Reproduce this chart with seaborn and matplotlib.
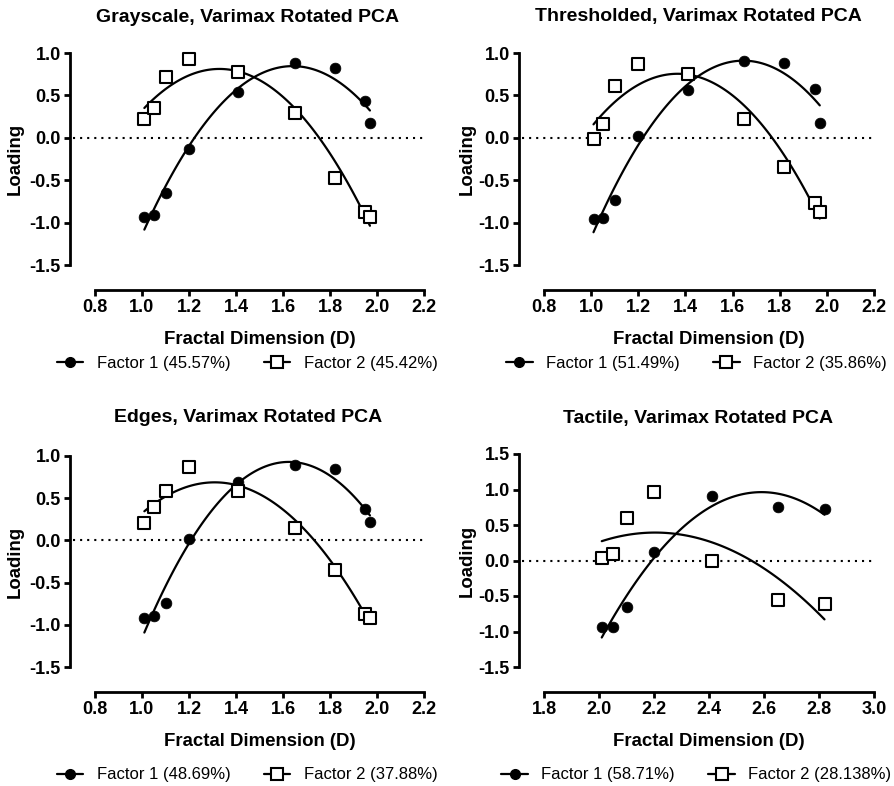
import numpy as np
import pandas as pd
import matplotlib
matplotlib.use("Agg")
import matplotlib.pyplot as plt
from matplotlib.lines import Line2D
import seaborn as sns

sns.set_theme(style="white")
plt.rcParams['font.family'] = ['Liberation Sans', 'DejaVu Sans']
plt.rcParams['text.color'] = 'black'
plt.rcParams['axes.labelcolor'] = 'black'
plt.rcParams['xtick.color'] = 'black'
plt.rcParams['ytick.color'] = 'black'

# ---- data ----
titles = ["Grayscale, Varimax Rotated PCA", "Thresholded, Varimax Rotated PCA",
          "Edges, Varimax Rotated PCA", "Tactile, Varimax Rotated PCA"]

x_gray = [1.01, 1.05, 1.10, 1.20, 1.41, 1.65, 1.82, 1.95, 1.97]
f1_gray = [-0.93, -0.91, -0.65, -0.13, 0.54, 0.88, 0.82, 0.43, 0.18]
f2_gray = [0.22, 0.35, 0.72, 0.93, 0.78, 0.29, -0.47, -0.87, -0.93]

x_thr = [1.01, 1.05, 1.10, 1.20, 1.41, 1.65, 1.82, 1.95, 1.97]
f1_thr = [-0.96, -0.95, -0.73, 0.02, 0.56, 0.90, 0.88, 0.58, 0.18]
f2_thr = [-0.02, 0.16, 0.61, 0.87, 0.75, 0.22, -0.34, -0.77, -0.87]

x_edge = [1.01, 1.05, 1.10, 1.20, 1.41, 1.65, 1.82, 1.95, 1.97]
f1_edge = [-0.92, -0.89, -0.74, 0.02, 0.69, 0.89, 0.85, 0.37, 0.22]
f2_edge = [0.21, 0.39, 0.59, 0.87, 0.59, 0.15, -0.35, -0.87, -0.92]

x_tac = [2.01, 2.05, 2.10, 2.20, 2.41, 2.65, 2.82]
f1_tac = [-0.93, -0.93, -0.66, 0.12, 0.91, 0.76, 0.72]
f2_tac = [0.03, 0.09, 0.60, 0.97, -0.01, -0.55, -0.61]

legend_f1 = ["Factor 1 (45.57%)", "Factor 1 (51.49%)", "Factor 1 (48.69%)", "Factor 1 (58.71%)"]
legend_f2 = ["Factor 2 (45.42%)", "Factor 2 (35.86%)", "Factor 2 (37.88%)", "Factor 2 (28.138%)"]

xticks_std = [0.8, 1.0, 1.2, 1.4, 1.6, 1.8, 2.0, 2.2]
xticks_tac = [1.8, 2.0, 2.2, 2.4, 2.6, 2.8, 3.0]
yticks_std = [-1.5, -1.0, -0.5, 0.0, 0.5, 1.0]
yticks_tac = [-1.5, -1.0, -0.5, 0.0, 0.5, 1.0, 1.5]

panels = [
    (x_gray, f1_gray, f2_gray, xticks_std, yticks_std),
    (x_thr, f1_thr, f2_thr, xticks_std, yticks_std),
    (x_edge, f1_edge, f2_edge, xticks_std, yticks_std),
    (x_tac, f1_tac, f2_tac, xticks_tac, yticks_tac),
]

W, H = 895, 786
fig = plt.figure(figsize=(W / 100, H / 100), dpi=100)
OFF_PX = 25
OFF_PT = OFF_PX * 72 / 100

# pixel boxes: (left, right, top, bottom) of data area
boxes = [
    (95, 424, 53, 265),
    (544, 874, 53, 265),
    (95, 424, 456, 667),
    (544, 874, 454, 667),
]
title_pos = [(248, 17), (698, 17), (248, 418), (698, 418)]
xlabel_y = [339, 339, 741, 741]
legend_y = [363, 363, 775, 775]
ylabel_x = [15, 467, 15, 467]

for i, ((xs, f1, f2, xt, yt), (l, r, t, b)) in enumerate(zip(panels, boxes)):
    ax = fig.add_axes([l / W, 1 - b / H, (r - l) / W, (b - t) / H])
    df = pd.DataFrame({"x": xs, "f1": f1, "f2": f2})
    # dotted zero line
    ax.plot([-(OFF_PX - 3) / (r - l), 1.0], [0, 0], transform=ax.get_yaxis_transform(),
            color="black", lw=1.5, ls=(0, (1, 2.4)), clip_on=False, zorder=1)
    for col, mk, fc in [("f1", "o", "black"), ("f2", "s", "white")]:
        sns.regplot(data=df, x="x", y=col, order=2, ci=None, truncate=True,
                    scatter=False, ax=ax,
                    line_kws=dict(color="black", lw=1.6, zorder=2))
        sns.scatterplot(data=df, x="x", y=col, ax=ax, marker=mk,
                        s=60 if mk == "o" else 75, color=fc,
                        edgecolor="black", linewidth=1.5 if mk == "s" else 0.5,
                        zorder=3, clip_on=False)
    ax.set_xlim(xt[0], xt[-1])
    ax.set_ylim(yt[0], yt[-1])
    for s in ["top", "right"]:
        ax.spines[s].set_visible(False)
    ax.spines["left"].set_position(("outward", OFF_PT))
    ax.spines["bottom"].set_position(("outward", OFF_PT))
    ax.spines["left"].set_bounds(yt[0], yt[-1])
    ax.spines["bottom"].set_bounds(xt[0], xt[-1])
    for s in ["left", "bottom"]:
        ax.spines[s].set_linewidth(2)
        ax.spines[s].set_color("black")
    ax.tick_params(axis="both", which="major", direction="out", length=4.5, width=2,
                   color="black", labelcolor="black", pad=2, labelsize=13,
                   left=True, bottom=True)
    ax.set_xticks(xt)
    ax.set_yticks(yt)
    ax.set_xticklabels([f"{v:.1f}" for v in xt])
    ax.set_yticklabels([f"{v:.1f}" for v in yt])
    for lab in ax.get_xticklabels() + ax.get_yticklabels():
        lab.set_fontweight("bold")
        lab.set_fontsize(13)
        lab.set_color("black")
    ax.set_xlabel("Fractal Dimension (D)", fontsize=13.4, fontweight="bold", color="black")
    ax.set_ylabel("Loading", fontsize=13.4, fontweight="bold", color="black")
    ax.xaxis.set_label_coords(0.5, (b - xlabel_y[i]) / (b - t), transform=ax.transAxes)
    ax.yaxis.set_label_coords((ylabel_x[i] - l) / (r - l), 0.5, transform=ax.transAxes)
    ax.xaxis.label.set_va("center")
    ax.yaxis.label.set_va("center")
    tx, ty = title_pos[i]
    fig.text(tx / W, 1 - ty / H, titles[i], fontsize=14, fontweight="bold",
             ha="center", va="center", color="black")
    h1 = Line2D([], [], color="black", marker="o", markersize=7, lw=1.6)
    h2 = Line2D([], [], color="black", marker="s", markersize=8, markerfacecolor="white",
                markeredgewidth=1.5, lw=1.6)
    cx = ((l - OFF_PX) + r) / 2
    leg = fig.legend([h1, h2], [legend_f1[i], legend_f2[i]], loc="center",
                     bbox_to_anchor=(cx / W, 1 - legend_y[i] / H), ncol=2, frameon=False,
                     fontsize=12, handlelength=1.6, columnspacing=2.0, handletextpad=0.8)
    for txt in leg.get_texts():
        txt.set_color("black")

fig.savefig("out.png", dpi=100, facecolor="white")
